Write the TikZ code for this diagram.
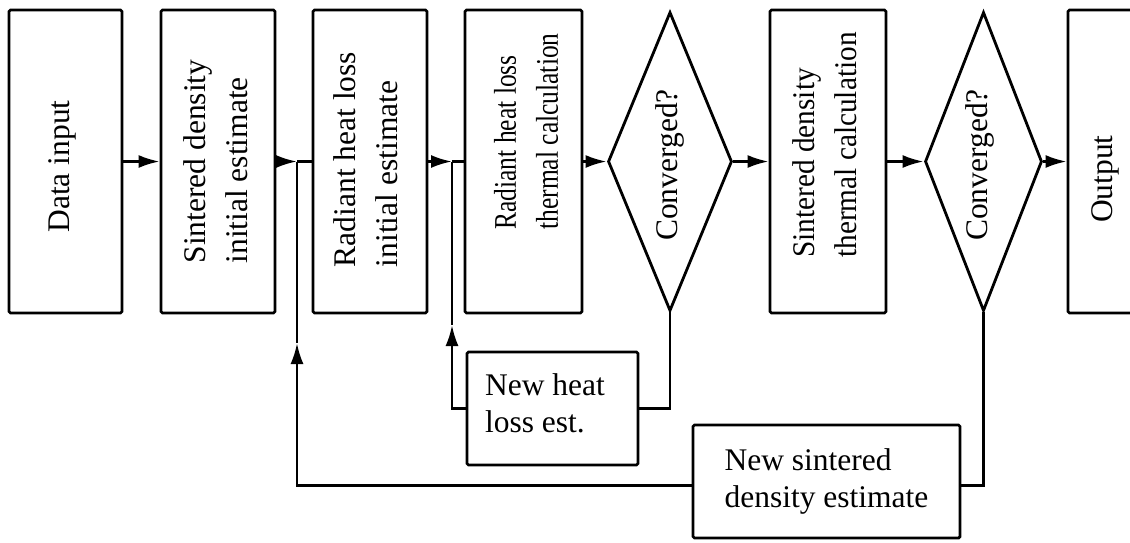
\documentclass[tikz,border=0pt]{standalone}
\usepackage{fontspec}
\setmainfont{Liberation Serif}
\newfontfamily\condA[FakeStretch=0.81]{Liberation Serif}
\newfontfamily\condB[FakeStretch=0.93]{Liberation Serif}
\usetikzlibrary{arrows.meta,shapes.geometric}
\begin{document}
\begin{tikzpicture}[x=1pt,y=-1pt,
  blk/.style={draw,line width=2.8pt,rounded corners=1.5pt,inner sep=0pt,minimum height=303pt},
  dia/.style={draw,diamond,line width=2.8pt,inner sep=0pt,minimum height=299pt},
  vtxt/.style={rotate=90,align=left,inner sep=0pt,font=\fontsize{31.5}{42}\selectfont},
  htxt/.style={align=left,font=\fontsize{31.5}{37}\selectfont},
  conn/.style={line width=2.6pt},
  arr/.style={conn,-{Latex[length=21pt,width=13pt]}}]
\useasboundingbox (0,0) rectangle (1130,542);
\clip (0,0) rectangle (1130,542);
% main row
\node[blk,minimum width=113pt] (b1) at (65.5,161.5) {};
\node[blk,minimum width=114pt] (b2) at (218,161.5) {};
\node[blk,minimum width=114pt] (b3) at (370,161.5) {};
\node[blk,minimum width=117pt] (b4) at (523.5,161.5) {};
\node[dia,minimum width=124pt] (d1) at (670,161.5) {};
\node[blk,minimum width=116pt] (b5) at (828,161.5) {};
\node[dia,minimum width=117pt] (d2) at (983.5,161.5) {};
\node[blk,minimum width=74pt] (b6) at (1105,161.5) {};
% feedback boxes
\node[blk,minimum width=171pt,minimum height=113pt] (nh) at (552.5,408.5) {};
\node[htxt] (nht) at (545,403) {New heat\\loss est.};
\node[blk,htxt,minimum width=267pt,minimum height=113pt] (ns) at (826.5,481.5) {New sintered\\density estimate};
% vertical texts
\node[vtxt] (t1) at (62,166.5) {Data input};
\node[vtxt] (t2) at (216,161.5) {Sintered density\\initial estimate};
\node[vtxt] (t3) at (366,159.5) {Radiant heat loss\\initial estimate};
\node[vtxt,font=\condA\fontsize{31.5}{42}\selectfont] (t4) at (526,131.5) {Radiant heat loss\\thermal calculation};
\node[vtxt,font=\condB\fontsize{31.5}{42}\selectfont] (t5) at (825,145) {Sintered density\\thermal calculation};
\node[vtxt] (t6) at (1105,179) {Output};
\node[vtxt] (t7) at (670,165) {Converged?};
\node[vtxt] (t8) at (980,165) {Converged?};
% junctions
\coordinate (j1) at (297,161.5);
\coordinate (j2) at (452,161.5);
\coordinate (a1) at (297,343);
\coordinate (a2) at (452,325);
% connectors
\draw[arr] (b1.east) -- (b2.west);
\draw[arr] (b2.east) -- (j1);
\draw[conn] (j1) -- (b3.west);
\draw[arr] (b3.east) -- (j2);
\draw[conn] (j2) -- (b4.west);
\draw[arr] (b4.east) -- (d1.west);
\draw[arr] (d1.east) -- (b5.west);
\draw[arr] (b5.east) -- (d2.west);
\draw[arr] (d2.east) -- (b6.west);
\draw[conn] (d1.south) |- (nh.east);
\draw[arr] (nh.west) -| (a2);
\draw[conn] (a2) -- (j2);
\draw[conn] (d2.south) |- ([yshift=-4pt]ns.east);
\draw[arr] ([yshift=-4pt]ns.west) -| (a1);
\draw[conn] (a1) -- (j1);
\end{tikzpicture}
\end{document}
